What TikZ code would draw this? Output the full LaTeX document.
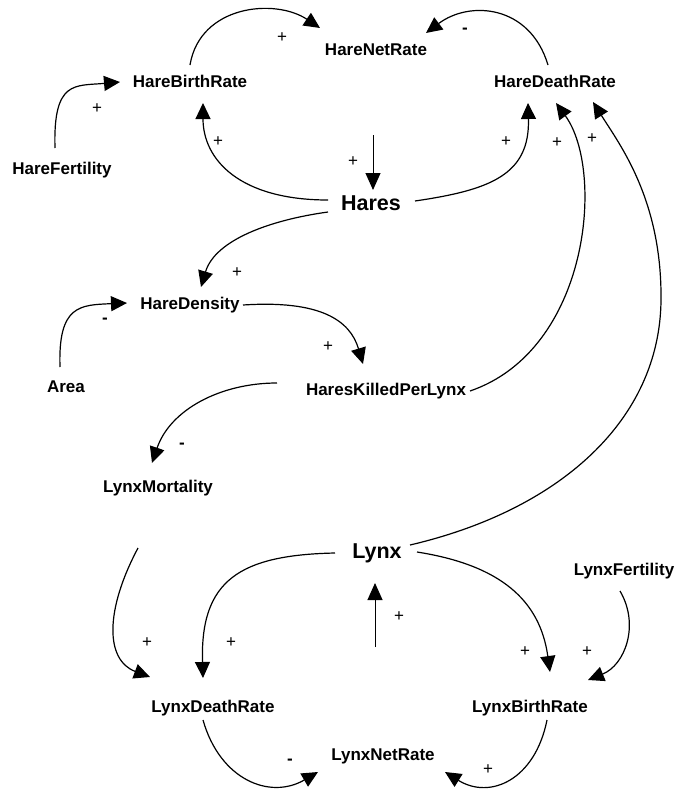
\documentclass[tikz,border=0pt]{standalone}
\usepackage{fontspec}
\setmainfont{Liberation Sans}
\usetikzlibrary{arrows.meta,calc}
\begin{document}
\begin{tikzpicture}[x=1pt,y=-1pt,
  var/.style={font=\fontsize{17}{20}\selectfont\bfseries, inner sep=0pt, anchor=base},
  stock/.style={font=\fontsize{21.5}{25}\selectfont\bfseries, inner sep=0pt, anchor=base},
  sgn/.style={font=\fontsize{17}{20}\selectfont, inner sep=0pt},
  neg/.style={font=\fontsize{17}{20}\selectfont\bfseries, inner sep=0pt},
  link/.style={line width=1.2pt, -{Triangle[length=16pt,width=15pt]}},
  flow/.style={line width=1pt, -{Triangle[length=17pt,width=15pt]}}]
\useasboundingbox (0,0) rectangle (679,790);

% variables
\node[var] (hnr) at (376,55) {HareNetRate};
\node[var] (hbr) at (190,87) {HareBirthRate};
\node[var] (hdr) at (555,87) {HareDeathRate};
\node[var] (hf) at (62,174) {HareFertility};
\node[stock] (hares) at (371,210) {Hares};
\node[var] (hd) at (190,309) {HareDensity};
\node[var] (area) at (66,392) {Area};
\node[var] (hkpl) at (386,395) {HaresKilledPerLynx};
\node[var] (lm) at (158,492) {LynxMortality};
\node[stock] (lynx) at (377,558) {Lynx};
\node[var] (lf) at (624,575) {LynxFertility};
\node[var] (ldr) at (213,712) {LynxDeathRate};
\node[var] (lbr) at (530,712) {LynxBirthRate};
\node[var] (lnr) at (383,760) {LynxNetRate};

% connectors
\draw[link] ($(hbr.base)+(0,-22)$) .. controls (200,5) and (275,-2) .. ($(hnr.base)+(-56,-27)$);
\draw[link] ($(hdr.base)+(-7,-22)$) .. controls (530,5) and (470,0) .. ($(hnr.base)+(50,-22)$);
\draw[link] ($(hf.base)+(-7,-26)$) .. controls (53,80) and (75,86) .. ($(hbr.base)+(-70,-5)$);
\draw[link] ($(hares.base)+(-43,-10)$) .. controls (240,200) and (203,160) .. ($(hbr.base)+(13,16)$);
\draw[link] ($(hares.base)+(44,-9)$) .. controls (490,190) and (530,175) .. ($(hdr.base)+(-27,16)$);
\draw[flow] ($(hares.base)+(2,-75)$) -- ($(hares.base)+(2,-20)$);
\draw[link] ($(hkpl.base)+(84,-4)$) .. controls (590,350) and (605,170) .. ($(hdr.base)+(1,16)$);
\draw[link] ($(lynx.base)+(33,-13)$) .. controls (560,510) and (660,420) .. (661,300)
   .. controls (662,200) and (620,145) .. ($(hdr.base)+(38,15)$);
\draw[link] ($(hares.base)+(-43,2)$) .. controls (270,220) and (215,240) .. ($(hd.base)+(11,-22)$);
\draw[link] ($(area.base)+(-6,-25)$) .. controls (58,305) and (80,305) .. ($(hd.base)+(-63,-6)$);
\draw[link] ($(hd.base)+(53,-4)$) .. controls (320,300) and (350,320) .. ($(hkpl.base)+(-23,-31)$);
\draw[link] ($(hkpl.base)+(-109,-12)$) .. controls (220,383) and (170,410) .. ($(lm.base)+(-6,-29)$);
\draw[link] ($(lm.base)+(-20,56)$) .. controls (105,610) and (105,660) .. ($(ldr.base)+(-63,-35)$);
\draw[link] ($(lynx.base)+(-42,-5)$) .. controls (240,555) and (200,580) .. ($(ldr.base)+(-10,-34)$);
\draw[link] ($(lynx.base)+(40,-6)$) .. controls (500,565) and (540,600) .. ($(lbr.base)+(20,-40)$);
\draw[link] ($(lf.base)+(-4,16)$) .. controls (640,625) and (625,665) .. ($(lbr.base)+(58,-32)$);
\draw[flow] ($(lynx.base)+(-2,89)$) -- ($(lynx.base)+(-2,25)$);
\draw[link] ($(ldr.base)+(-10,8)$) .. controls (220,780) and (270,800) .. ($(lnr.base)+(-65,12)$);
\draw[link] ($(lbr.base)+(17,8)$) .. controls (535,780) and (490,800) .. ($(lnr.base)+(62,12)$);

% polarity signs
\node[sgn] (s1) at (282,38) {+};
\node[neg] (s2) at (465,31) {-};
\node[sgn] (s3) at (97,109) {+};
\node[sgn] (s4) at (218,142) {+};
\node[sgn] (s5) at (353,162) {+};
\node[sgn] (s6) at (506,142) {+};
\node[sgn] (s7) at (557,143) {+};
\node[sgn] (s8) at (592,139) {+};
\node[sgn] (s9) at (237,273) {+};
\node[neg] (s10) at (105,321) {-};
\node[sgn] (s11) at (328,347) {+};
\node[neg] (s12) at (182,446) {-};
\node[sgn] (s13) at (147,643) {+};
\node[sgn] (s14) at (231,643) {+};
\node[sgn] (s15) at (399,617) {+};
\node[sgn] (s16) at (525,652) {+};
\node[sgn] (s17) at (587,652) {+};
\node[neg] (s18) at (290,762) {-};
\node[sgn] (s19) at (488,770) {+};
\end{tikzpicture}
\end{document}
